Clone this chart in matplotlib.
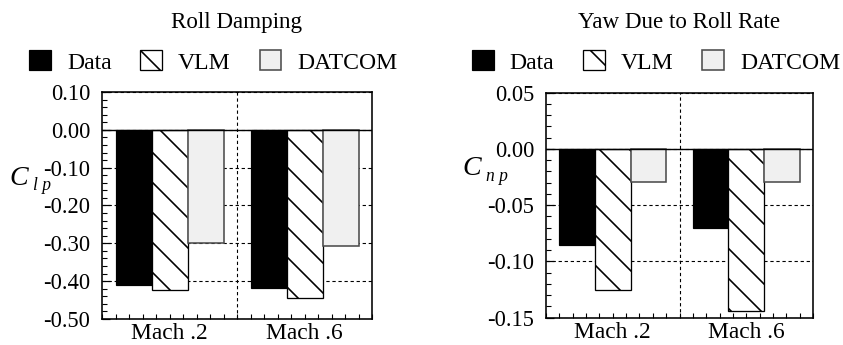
import matplotlib
matplotlib.use("Agg")
import matplotlib.pyplot as plt
from matplotlib.ticker import MultipleLocator, FormatStrFormatter
import matplotlib.backend_bases as bb
import numpy as np

# ---------------- data ----------------
groups = ["Mach .2", "Mach .6"]
series = ["Data", "VLM", "DATCOM"]
roll_data = [-0.41, -0.418]
roll_vlm = [-0.424, -0.445]
roll_datcom = [-0.30, -0.308]
yaw_data = [-0.085, -0.0705]
yaw_vlm = [-0.125, -0.144]
yaw_datcom = [-0.029, -0.029]
titles = ["Roll Damping", "Yaw Due to Roll Rate"]
ylab_main = ["C", "C"]
ylab_sub = ["l p", "n p"]

DPI = 90
W, H = 843, 345
def P(px):
    return px * 72.0 / DPI

# hatch line spacing
_orig_hatch = bb.GraphicsContextBase.get_hatch_path
def _hatch(self, density=6.5):
    return _orig_hatch(self, density)
bb.GraphicsContextBase.get_hatch_path = _hatch

plt.rcParams["font.family"] = ["Liberation Serif", "DejaVu Serif"]
plt.rcParams["axes.unicode_minus"] = False
plt.rcParams["hatch.linewidth"] = 1.3

fig = plt.figure(figsize=(W / DPI, H / DPI), dpi=DPI)

def fx(px):
    return px / W
def fy(px):
    return 1 - px / H

axes_px = [(102, 92, 372, 319), (546, 92.7, 813, 317.7)]
ylims = [(-0.50, 0.10), (-0.15, 0.05)]
major = [0.10, 0.05]
minor = [0.02, 0.01]
vals = [(roll_data, roll_vlm, roll_datcom), (yaw_data, yaw_vlm, yaw_datcom)]
legend_cx = [213.5, 656]
ylab_pos = [(9, 185), (462, 175)]
ysub_pos = [(33, 190), (486, 181)]

styles = [
    dict(color="black", edgecolor="black", linewidth=P(1.2)),
    dict(color="white", edgecolor="black", linewidth=P(1.3), hatch="\\"),
    dict(color="#f0f0f0", edgecolor="#4d4d4d", linewidth=P(1.6)),
]

w = 0.8 / 3
xc = np.array([0.5, 1.5])
for i in range(2):
    l, t, r, b = axes_px[i]
    ax = fig.add_axes([fx(l), fy(b), (r - l) / W, (b - t) / H])
    handles = []
    for k, s in enumerate(series):
        bars = ax.bar(xc + (k - 1) * w, vals[i][k], w, label=s, zorder=3, **styles[k])
        handles.append(bars)
    ax.set_xlim(0, 2)
    ax.set_ylim(*ylims[i])
    ax.yaxis.set_major_locator(MultipleLocator(major[i]))
    ax.yaxis.set_minor_locator(MultipleLocator(minor[i]))
    ax.yaxis.set_major_formatter(FormatStrFormatter("%.2f"))
    ax.set_xticks(xc)
    ax.set_xticklabels(groups)
    ax.xaxis.set_minor_locator(MultipleLocator(0.1))
    ax.tick_params(axis="y", which="major", direction="in", length=P(8), width=P(1.2),
                   labelsize=P(22.5), pad=P(12), right=False)
    ax.tick_params(axis="y", which="minor", direction="in", length=P(5), width=P(1.1), right=False)
    ax.tick_params(axis="x", which="both", direction="in", length=P(5), width=P(1.1),
                   labelsize=P(23.5), pad=P(4), top=False)
    for sp in ax.spines.values():
        sp.set_linewidth(P(1.6))
        sp.set_color("black")
    ax.yaxis.grid(True, linestyle=(0, (3, 2.5)), color="black", linewidth=P(1.1), zorder=1)
    ax.set_axisbelow(True)
    ax.axvline(1.0, linestyle=(0, (3, 2.5)), color="black", linewidth=P(1.1), zorder=1)
    ax.axhline(0.0, color="black", linewidth=P(1.4), zorder=4)

    fig.text(fx((l + r) / 2), fy(28), titles[i], ha="center", va="baseline", fontsize=P(23))
    fig.text(fx(ylab_pos[i][0]), fy(ylab_pos[i][1]), ylab_main[i], ha="left", va="baseline",
             fontsize=P(28), style="italic")
    fig.text(fx(ysub_pos[i][0]), fy(ysub_pos[i][1]), ylab_sub[i], ha="left", va="baseline",
             fontsize=P(17.5), style="italic")
    fig.legend(handles=handles, labels=series, loc="center", ncol=3,
               bbox_to_anchor=(fx(legend_cx[i]), fy(62)), frameon=False,
               fontsize=P(23.8), handlelength=0.92, handleheight=0.92,
               handletextpad=0.67, columnspacing=1.2, borderpad=0, borderaxespad=0)

fig.savefig("out.png", dpi=DPI)
